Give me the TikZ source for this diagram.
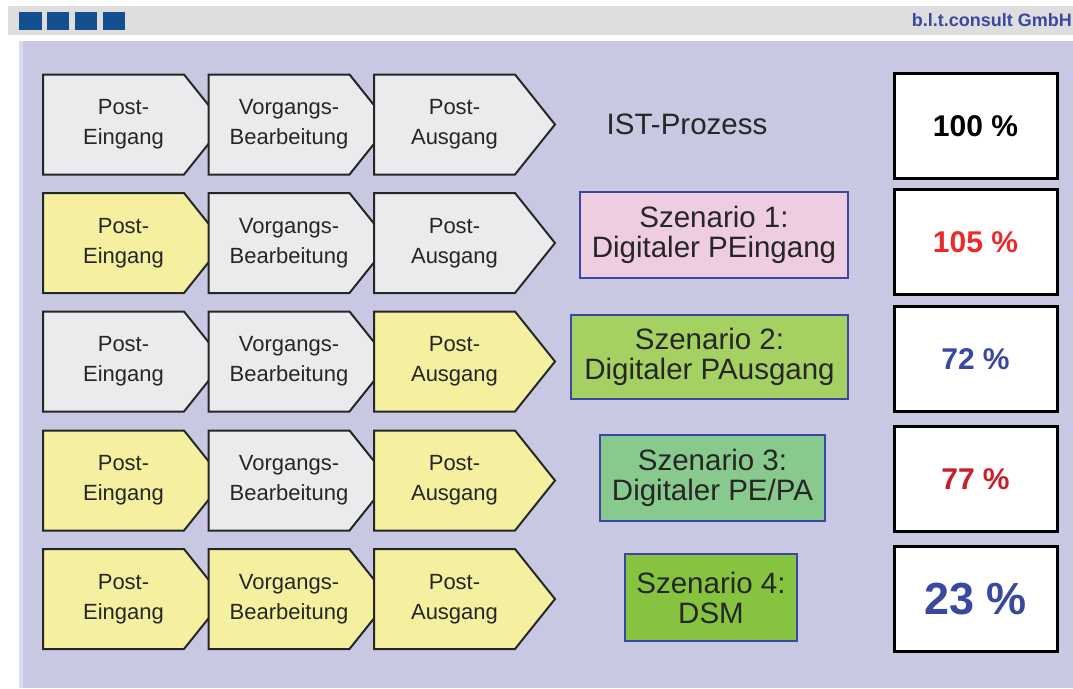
\documentclass[tikz,border=0pt]{standalone}
\usepackage{fontspec}
\setmainfont{Liberation Sans}

\definecolor{panel}{HTML}{C8C8E2}
\definecolor{paneledge}{HTML}{DCDCEE}
\definecolor{headbar}{HTML}{DEDEDE}
\definecolor{headblue}{HTML}{14508F}
\definecolor{procgray}{HTML}{EBEBEE}
\definecolor{procyellow}{HTML}{F4F0A0}
\definecolor{scenblue}{HTML}{3A48A0}
\definecolor{scenpink}{HTML}{EECCE2}
\definecolor{scengreenA}{HTML}{A5D163}
\definecolor{scengreenB}{HTML}{88C98E}
\definecolor{scengreenC}{HTML}{86C440}
\definecolor{resred}{HTML}{EC2A2A}
\definecolor{resdarkred}{HTML}{C8202A}

% chevron: name, x of box centre, y, fill, text
\newcommand{\chevron}[5]{%
  \filldraw[fill=#4, draw=black!85, line width=2pt]
    (#2-70.5,#3-50) -- (#2+70.5,#3-50) -- (#2+110.5,#3)
    -- (#2+70.5,#3+50) -- (#2-70.5,#3+50) -- cycle;
  \node[proctext] (#1) at (#2+10,#3) {#5};}

\begin{document}
\begin{tikzpicture}[x=1pt, y=-1pt,
    proctext/.style ={inner sep=0pt, align=center, text=black!85,
      font=\fontsize{22}{30}\selectfont},
    scenario/.style ={draw=scenblue, line width=2pt, inner sep=0pt, align=center,
      text=black!85, font=\fontsize{29.5}{30}\selectfont},
    result/.style ={draw=black, line width=3pt, fill=white, minimum width=163pt,
      minimum height=105pt, font=\bfseries\fontsize{30}{30}\selectfont}]
   \useasboundingbox (0,0) rectangle (1073,688);

   % header and panel
   \fill[headbar] (8,6) rectangle (1073,35);
   \fill[headblue] (19,12) rectangle (42,30);
   \fill[headblue] (47,12) rectangle (69,30);
   \fill[headblue] (75,12) rectangle (97,30);
   \fill[headblue] (103,12) rectangle (125,30);
   \node[anchor=base east, inner sep=0pt, text=scenblue,
     font=\bfseries\fontsize{18}{18}\selectfont] (firm) at (1072,27) {b.l.t.consult GmbH};
   \fill[panel] (19,41) rectangle (1073,688);
   \fill[paneledge] (19,41) rectangle (23,688);

   % row 1
   \chevron{pe1}{113.5}{124.5}{procgray}{Post-\\Eingang}
   \chevron{vb1}{279}{124.5}{procgray}{Vorgangs-\\Bearbeitung}
   \chevron{pa1}{444.5}{124.5}{procgray}{Post-\\Ausgang}
   \node[scenario, draw=none] (sc1) at (687,124) {IST-Prozess};
   \node[result] (res1) at (975.5,126) {100 \%};

   % row 2
   \chevron{pe2}{113.5}{243}{procyellow}{Post-\\Eingang}
   \chevron{vb2}{279}{243}{procgray}{Vorgangs-\\Bearbeitung}
   \chevron{pa2}{444.5}{243}{procgray}{Post-\\Ausgang}
   \node[scenario, fill=scenpink, minimum width=268pt, minimum height=86pt] (sc2)
     at (714,235) {Szenario 1:\\Digitaler PEingang};
   \node[result, text=resred] (res2) at (975.5,242) {105 \%};

   % row 3
   \chevron{pe3}{113.5}{361.5}{procgray}{Post-\\Eingang}
   \chevron{vb3}{279}{361.5}{procgray}{Vorgangs-\\Bearbeitung}
   \chevron{pa3}{444.5}{361.5}{procyellow}{Post-\\Ausgang}
   \node[scenario, fill=scengreenA, minimum width=277pt, minimum height=84pt] (sc3)
     at (709.5,357) {Szenario 2:\\Digitaler PAusgang};
   \node[result, text=scenblue] (res3) at (975.5,359) {72 \%};

   % row 4
   \chevron{pe4}{113.5}{480.5}{procyellow}{Post-\\Eingang}
   \chevron{vb4}{279}{480.5}{procgray}{Vorgangs-\\Bearbeitung}
   \chevron{pa4}{444.5}{480.5}{procyellow}{Post-\\Ausgang}
   \node[scenario, fill=scengreenB, minimum width=225pt, minimum height=86pt] (sc4)
     at (712.5,478) {Szenario 3:\\Digitaler PE/PA};
   \node[result, text=resdarkred] (res4) at (975.5,479) {77 \%};

   % row 5
   \chevron{pe5}{113.5}{599}{procyellow}{Post-\\Eingang}
   \chevron{vb5}{279}{599}{procyellow}{Vorgangs-\\Bearbeitung}
   \chevron{pa5}{444.5}{599}{procyellow}{Post-\\Ausgang}
   \node[scenario, fill=scengreenC, minimum width=172pt, minimum height=87pt] (sc5)
     at (711,597.5) {Szenario 4:\\DSM};
   \node[result, text=scenblue, font=\bfseries\fontsize{45}{45}\selectfont] (res5)
     at (975.5,599) {23 \%};
 \end{tikzpicture}
\end{document}
